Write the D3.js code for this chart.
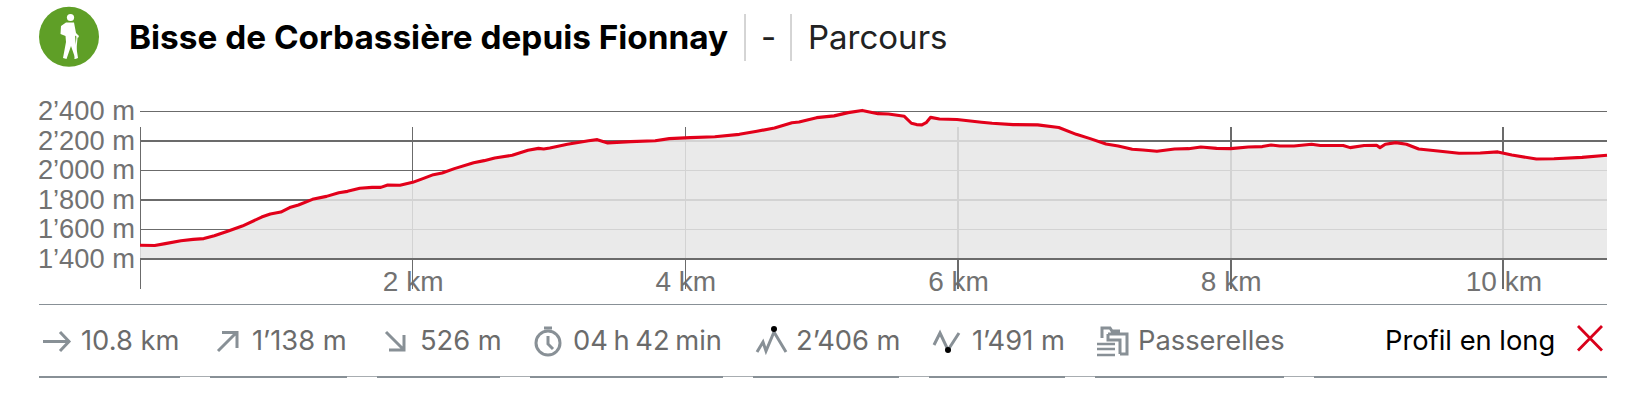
<!DOCTYPE html>
<html><head><meta charset="utf-8">
<script src="https://cdnjs.cloudflare.com/ajax/libs/d3/7.8.5/d3.min.js"></script>
<style>html,body{margin:0;padding:0;background:#fff;overflow:hidden}svg{display:block}</style>
</head><body><svg id="c" width="1642" height="409"></svg>
<script>
const titleText = "Bisse de Corbassière depuis Fionnay";
const subtitleText = "Parcours";
const distanceKm = [0,.108,.185,.30,.39,.468,.545,.648,.75,.892,.956,1.033,1.098,1.162,1.265,1.368,1.458,1.522,1.612,1.702,1.766,1.817,1.907,2.0,2.075,2.152,2.216,2.306,2.447,2.524,2.602,2.73,2.846,2.923,2.961,3.006,3.135,3.29,3.354,3.431,3.598,3.779,3.882,4.036,4.216,4.396,4.525,4.654,4.782,4.834,4.963,5.091,5.194,5.297,5.413,5.49,5.606,5.658,5.696,5.735,5.766,5.799,5.864,5.992,6.172,6.25,6.404,6.584,6.739,6.867,6.969,7.085,7.175,7.278,7.356,7.459,7.588,7.691,7.781,7.897,8,8.129,8.232,8.296,8.361,8.464,8.593,8.657,8.825,8.876,8.979,9.07,9.095,9.134,9.211,9.289,9.379,9.521,9.675,9.83,9.959,10.062,10.242,10.371,10.577,10.76];
const elevationM = [1493,1491,1504,1524,1533,1538,1558,1590,1623,1684,1705,1718,1748,1766,1804,1824,1849,1858,1879,1885,1885,1901,1899,1919,1944,1971,1982,2012,2052,2066,2084,2102,2136,2149,2145,2152,2177,2201,2208,2186,2195,2201,2215,2222,2228,2244,2265,2287,2323,2328,2357,2369,2391,2406,2384,2382,2366,2319,2310,2308,2323,2359,2348,2344,2326,2319,2310,2308,2290,2244,2215,2179,2165,2143,2138,2129,2145,2147,2158,2149,2147,2158,2161,2172,2165,2165,2177,2168,2168,2154,2168,2170,2154,2177,2188,2177,2145,2131,2116,2118,2125,2104,2077,2079,2088,2102];
const elevationTicks = [1400,1600,1800,2000,2200,2400];
const elevationTickLabels = ["1’400 m","1’600 m","1’800 m","2’000 m","2’200 m","2’400 m"];
const distanceTicks = [0,2,4,6,8,10];
const statLabels = ["10.8 km","1’138 m","526 m","04 h 42 min","2’406 m","1’491 m","Passerelles"];
const actionLabel = "Profil en long";

const svg = d3.select("#c");
const x = d3.scaleLinear().domain([0,10.76]).range([140,1607]);
const y = d3.scaleLinear().domain([1400,2400]).range([259,111.3]);
const INK="#6b6b6b", LABEL="#727272", ICON="#889096", LBL="Liberation Sans, Arial, sans-serif", UI="Inter, sans-serif";

/* header */
const head = svg.append("g");
head.append("circle").attr("cx",69).attr("cy",36.7).attr("r",30).attr("fill","#5f9f27");
const hiker = head.append("g").attr("fill","#fff").attr("stroke","none");
hiker.append("circle").attr("cx",70.5).attr("cy",17.5).attr("r",3.6);
hiker.append("path").attr("d","M66 22.5 L74 22.5 L76 33 L79 36 L78 38 L75 35.5 L75.5 42 L78 58 L75.5 59 L71 46 L66.5 59 L63 58 L66 42 L65.5 36 L60.5 34 L61 26 Z");
hiker.append("path").attr("d","M77 37 L75 59").attr("stroke","#fff").attr("stroke-width",1.2).attr("fill","none");
head.append("text").text(titleText).attr("x",129).attr("y",48.5).attr("font-family",UI).attr("font-weight",700).attr("font-size",33.35).attr("fill","#000");
[745,791].forEach(px=>head.append("line").attr("x1",px).attr("x2",px).attr("y1",14).attr("y2",61).attr("stroke","#aaa").attr("stroke-width",1));
head.append("text").text("-").attr("x",761).attr("y",48.5).attr("font-family",UI).attr("font-size",33).attr("fill","#222");
head.append("text").text(subtitleText).attr("x",808).attr("y",48.5).attr("font-family",UI).attr("font-size",33).attr("fill","#222");

/* grid + axes */
const yAxis = d3.axisLeft(y).tickValues(elevationTicks).tickFormat((d,i)=>elevationTickLabels[i]).tickSize(0).tickPadding(0);
const yG = svg.append("g").attr("transform","translate(135,0)").call(yAxis);
yG.select(".domain").remove();
yG.selectAll("text").attr("font-family",LBL).attr("font-size",27.3).attr("fill",LABEL).attr("dy","0.3em").attr("x",0);

const xAxis = d3.axisBottom(x).tickValues(distanceTicks).tickSize(0).tickPadding(0)
  .tickFormat(d=>d===0?"":d+" km");
const xG = svg.append("g").attr("transform","translate(0,291)").call(xAxis);
xG.select(".domain").remove();
xG.selectAll("text").attr("font-family",LBL).attr("font-size",28).attr("fill",LABEL).attr("dy",0).attr("y",0);

const grid = svg.append("g").attr("shape-rendering","crispEdges");
grid.selectAll(".h").data(elevationTicks).join("line")
  .attr("x1",x(0)).attr("x2",x(10.76)).attr("y1",d=>y(d)).attr("y2",d=>y(d))
  .attr("stroke",INK).attr("stroke-width",(d,i)=>i%2===0?2:1);
grid.selectAll(".v").data(distanceTicks).join("line")
  .attr("x1",d=>x(d)).attr("x2",d=>x(d)).attr("y1",127).attr("y2",289)
  .attr("stroke",INK).attr("stroke-width",d=>d>=6?2:1);

/* profile */
const pts = distanceKm.map((k,i)=>[k,elevationM[i]]);
svg.append("path").datum(pts).attr("fill","rgb(230,230,230)").attr("fill-opacity",.843)
  .attr("d",d3.area().x(d=>x(d[0])).y0(y(1400)).y1(d=>y(d[1])));
svg.append("line").attr("shape-rendering","crispEdges").attr("x1",x(0)).attr("x2",x(10.76)).attr("y1",y(1400)).attr("y2",y(1400)).attr("stroke",INK).attr("stroke-width",2);
svg.append("path").datum(pts).attr("fill","none").attr("stroke","#e2001a").attr("stroke-width",3.1).attr("stroke-linejoin","round")
  .attr("d",d3.line().x(d=>x(d[0])).y(d=>y(d[1])));

/* stats bar */
const bar = svg.append("g");
bar.append("line").attr("x1",39).attr("x2",1607).attr("y1",304.5).attr("y2",304.5).attr("stroke",ICON);
bar.append("line").attr("x1",39).attr("x2",1607).attr("y1",376.5).attr("y2",376.5).attr("stroke","#a8adb1");
[[39,180],[210,347],[377,500],[530,723],[753,899],[929,1065],[1095,1284],[1314,1607]].forEach(s=>
  bar.append("line").attr("x1",s[0]).attr("x2",s[1]).attr("y1",377).attr("y2",377).attr("stroke",ICON).attr("stroke-width",2));
const statX=[81,252,420,573,796,972,1138];
bar.selectAll(".s").data(statLabels).join("text").text(d=>d).attr("x",(d,i)=>statX[i]).attr("y",350)
  .attr("font-family",UI).attr("font-size",27.3).attr("fill",INK).attr("word-spacing",(d,i)=>i===3?-2:0);
bar.append("text").text(actionLabel).attr("x",1385).attr("y",350).attr("font-family",UI).attr("font-size",27.3).attr("fill","#000");
const ic = bar.append("g").attr("fill","none").attr("stroke",ICON).attr("stroke-width",3);
ic.append("path").attr("d","M43 341.5 H69 M60 332 L69 341.5 L60 351");
ic.append("path").attr("d","M218 351 L237 332 M222 332.5 H237 V348");
ic.append("path").attr("d","M386 332 L404 350 M389 350 H404 V335");
ic.append("circle").attr("cx",548).attr("cy",343).attr("r",12);
ic.append("path").attr("d","M548 336 V344 L553 349 M544 328 H552");
ic.append("path").attr("d","M757 352 L763 342 L766 351 L774 332 L786 352");
svg.append("circle").attr("cx",774).attr("cy",329).attr("r",3).attr("fill","#000");
ic.append("path").attr("d","M934 345 L940 333 L948 350 L959 333");
svg.append("circle").attr("cx",948).attr("cy",350).attr("r",3).attr("fill","#000");
ic.append("path").attr("d","M1102 338 V328 H1110 L1112 331 H1120 M1108 334 H1127 V354 H1120 M1108 334 V340 H1120 V354");
ic.append("path").attr("d","M1097 344 H1115 M1097 349 H1115 M1097 355 H1115").attr("stroke-width",2.6);
svg.append("path").attr("d","M1578 326 L1602 350.5 M1602 326 L1578 350.5").attr("stroke","#d9001b").attr("stroke-width",2.8).attr("fill","none");
</script></body></html>
